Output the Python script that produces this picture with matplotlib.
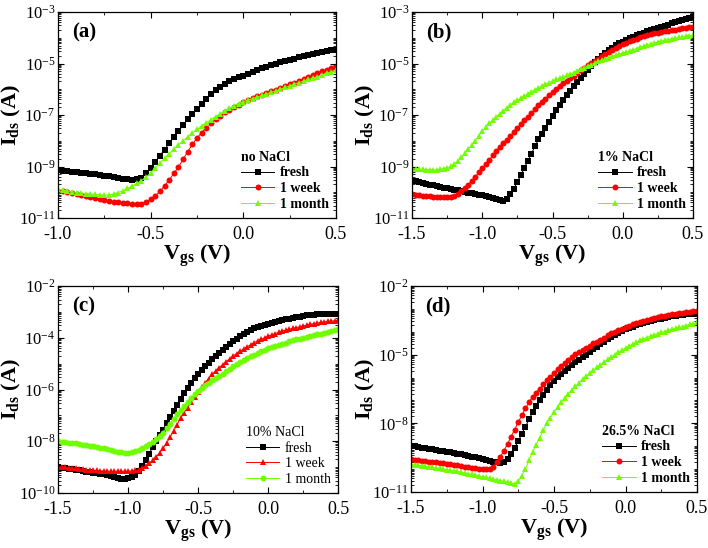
import numpy as np
import matplotlib
matplotlib.use("Agg")
import matplotlib.pyplot as plt
from matplotlib.ticker import FixedLocator, NullFormatter, FixedFormatter

plt.rcParams["font.family"] = ["Liberation Serif", "DejaVu Serif"]
plt.rcParams["mathtext.fontset"] = "custom"
plt.rcParams["mathtext.rm"] = "Liberation Serif"
plt.rcParams["mathtext.bf"] = "Liberation Serif:bold"
plt.rcParams["mathtext.it"] = "Liberation Serif:italic"

# gate voltage sweeps (V)
vgs_a = np.round(np.arange(-1.0, 0.5001, 0.025), 3)
vgs_bcd = np.round(np.arange(-1.5, 0.5001, 0.025), 3)

# log10(Ids / A)
# (a) no NaCl
a_fresh = [-9.15, -9.17, -9.19, -9.2, -9.23, -9.25, -9.27, -9.29, -9.31, -9.33, -9.36, -9.38, -9.41,
           -9.44, -9.47, -9.49, -9.51, -9.5, -9.43, -9.27, -9.05, -8.82, -8.58, -8.34, -8.1, -7.87,
           -7.63, -7.4, -7.17, -6.96, -6.77, -6.56, -6.37, -6.2, -6.04, -5.9, -5.78, -5.68, -5.6,
           -5.53, -5.47, -5.39, -5.32, -5.25, -5.18, -5.12, -5.07, -5.01, -4.96, -4.91, -4.86, -4.81,
           -4.76, -4.72, -4.67, -4.63, -4.59, -4.56, -4.52, -4.49, -4.46]
a_week = [-9.94, -9.97, -10.0, -10.04, -10.08, -10.12, -10.16, -10.2, -10.24, -10.27, -10.3, -10.34,
          -10.37, -10.39, -10.41, -10.43, -10.45, -10.45, -10.44, -10.38, -10.28, -10.14, -9.96, -9.75,
          -9.52, -9.27, -9.02, -8.72, -8.42, -8.14, -7.89, -7.68, -7.5, -7.32, -7.17, -7.03, -6.9,
          -6.8, -6.7, -6.6, -6.5, -6.43, -6.35, -6.28, -6.21, -6.14, -6.08, -6.01, -5.95, -5.88,
          -5.81, -5.74, -5.67, -5.6, -5.52, -5.45, -5.38, -5.31, -5.25, -5.18, -5.12]
a_month = [-9.88, -9.91, -9.95, -9.98, -10.01, -10.03, -10.05, -10.07, -10.08, -10.1, -10.11, -10.1,
           -10.07, -10.01, -9.94, -9.85, -9.76, -9.66, -9.55, -9.41, -9.26, -9.06, -8.87, -8.68, -8.5,
           -8.33, -8.16, -8.0, -7.84, -7.7, -7.56, -7.43, -7.3, -7.18, -7.06, -6.95, -6.84, -6.74,
           -6.64, -6.56, -6.48, -6.42, -6.36, -6.3, -6.24, -6.18, -6.12, -6.06, -6.0, -5.93, -5.87,
           -5.8, -5.74, -5.68, -5.62, -5.57, -5.51, -5.45, -5.38, -5.32, -5.25]

# (b) 1% NaCl
b_fresh = [-9.55, -9.58, -9.61, -9.65, -9.68, -9.71, -9.73, -9.76, -9.79, -9.82, -9.85, -9.87, -9.9,
           -9.93, -9.96, -9.98, -10.01, -10.04, -10.07, -10.09, -10.12, -10.16, -10.2, -10.24, -10.28,
           -10.31, -10.33, -10.25, -10.08, -9.86, -9.6, -9.33, -9.05, -8.78, -8.5, -8.22, -7.95, -7.73,
           -7.52, -7.28, -7.05, -6.82, -6.6, -6.42, -6.24, -6.06, -5.88, -5.71, -5.55, -5.39, -5.24,
           -5.1, -4.96, -4.84, -4.72, -4.6, -4.49, -4.39, -4.3, -4.22, -4.15, -4.08, -4.02, -3.96,
           -3.9, -3.85, -3.8, -3.75, -3.7, -3.66, -3.61, -3.57, -3.53, -3.49, -3.44, -3.4, -3.36,
           -3.32, -3.28, -3.24, -3.2]
b_week = [-10.08, -10.1, -10.11, -10.13, -10.14, -10.16, -10.18, -10.19, -10.2, -10.2, -10.19, -10.17,
          -10.13, -10.06, -9.96, -9.84, -9.7, -9.56, -9.4, -9.23, -9.07, -8.91, -8.75, -8.56, -8.38,
          -8.23, -8.09, -7.96, -7.82, -7.66, -7.5, -7.35, -7.2, -7.06, -6.93, -6.78, -6.63, -6.49,
          -6.36, -6.23, -6.1, -5.98, -5.87, -5.77, -5.67, -5.58, -5.48, -5.37, -5.26, -5.16, -5.07,
          -4.98, -4.9, -4.81, -4.72, -4.63, -4.55, -4.47, -4.4, -4.33, -4.26, -4.2, -4.14, -4.08,
          -4.03, -3.98, -3.94, -3.9, -3.86, -3.83, -3.8, -3.77, -3.75, -3.72, -3.7, -3.68, -3.66,
          -3.64, -3.61, -3.59, -3.57]
b_month = [-9.08, -9.09, -9.1, -9.11, -9.12, -9.13, -9.14, -9.13, -9.11, -9.08, -9.05, -8.99, -8.9,
           -8.79, -8.65, -8.49, -8.33, -8.17, -8.0, -7.81, -7.63, -7.48, -7.33, -7.2, -7.08, -6.95,
           -6.83, -6.71, -6.6, -6.51, -6.43, -6.34, -6.25, -6.17, -6.09, -6.01, -5.94, -5.87, -5.8,
           -5.74, -5.68, -5.62, -5.57, -5.51, -5.46, -5.4, -5.35, -5.28, -5.22, -5.16, -5.1, -5.04,
           -4.98, -4.92, -4.87, -4.82, -4.77, -4.72, -4.68, -4.63, -4.59, -4.55, -4.5, -4.46, -4.42,
           -4.37, -4.32, -4.28, -4.23, -4.2, -4.16, -4.13, -4.1, -4.07, -4.04, -4.02, -3.99, -3.97,
           -3.94, -3.92, -3.9]

# (c) 10% NaCl
c_fresh = [-9.0, -9.03, -9.05, -9.06, -9.08, -9.1, -9.13, -9.15, -9.17, -9.19, -9.21, -9.23, -9.26,
           -9.28, -9.31, -9.34, -9.37, -9.41, -9.45, -9.46, -9.43, -9.38, -9.3, -9.15, -8.95, -8.72,
           -8.48, -8.24, -8.0, -7.77, -7.55, -7.3, -7.05, -6.82, -6.6, -6.37, -6.15, -5.95, -5.75,
           -5.57, -5.39, -5.24, -5.1, -4.97, -4.84, -4.71, -4.58, -4.47, -4.36, -4.24, -4.13, -4.03,
           -3.94, -3.86, -3.78, -3.71, -3.64, -3.59, -3.54, -3.5, -3.46, -3.42, -3.38, -3.35, -3.32,
           -3.29, -3.26, -3.23, -3.2, -3.18, -3.16, -3.14, -3.12, -3.11, -3.1, -3.09, -3.08, -3.07,
           -3.07, -3.07, -3.07]
c_week = [-9.0, -9.0, -9.01, -9.02, -9.03, -9.05, -9.06, -9.08, -9.1, -9.11, -9.12, -9.13, -9.14,
          -9.15, -9.15, -9.16, -9.16, -9.16, -9.16, -9.16, -9.16, -9.15, -9.13, -9.1, -9.04, -8.96,
          -8.85, -8.74, -8.6, -8.45, -8.28, -8.07, -7.85, -7.6, -7.36, -7.12, -6.9, -6.7, -6.5,
          -6.3, -6.1, -5.92, -5.74, -5.58, -5.42, -5.29, -5.16, -5.04, -4.93, -4.82, -4.71, -4.61,
          -4.52, -4.43, -4.35, -4.27, -4.19, -4.12, -4.06, -4.0, -3.94, -3.89, -3.84, -3.79, -3.74,
          -3.71, -3.67, -3.64, -3.61, -3.58, -3.54, -3.51, -3.48, -3.46, -3.43, -3.41, -3.39, -3.37,
          -3.36, -3.34, -3.33]
c_month = [-8.0, -8.02, -8.03, -8.05, -8.06, -8.08, -8.1, -8.13, -8.15, -8.18, -8.2, -8.23, -8.26,
           -8.28, -8.31, -8.34, -8.36, -8.4, -8.43, -8.44, -8.44, -8.42, -8.38, -8.33, -8.27, -8.2,
           -8.12, -8.03, -7.93, -7.8, -7.67, -7.5, -7.32, -7.14, -6.96, -6.79, -6.63, -6.47, -6.32,
           -6.18, -6.05, -5.93, -5.82, -5.73, -5.65, -5.56, -5.48, -5.39, -5.29, -5.2, -5.1, -5.02,
           -4.93, -4.86, -4.79, -4.72, -4.65, -4.58, -4.52, -4.46, -4.41, -4.36, -4.32, -4.27, -4.23,
           -4.19, -4.14, -4.1, -4.06, -4.03, -4.0, -3.97, -3.94, -3.91, -3.87, -3.84, -3.81, -3.78,
           -3.74, -3.71, -3.68]

# (d) 26.5% NaCl
d_fresh = [-8.99, -9.01, -9.03, -9.06, -9.08, -9.11, -9.14, -9.17, -9.2, -9.22, -9.25, -9.27, -9.3,
           -9.33, -9.36, -9.39, -9.42, -9.45, -9.49, -9.52, -9.55, -9.59, -9.63, -9.67, -9.71, -9.72,
           -9.67, -9.56, -9.35, -9.06, -8.77, -8.46, -8.15, -7.83, -7.52, -7.24, -6.98, -6.75, -6.53,
           -6.33, -6.15, -5.99, -5.84, -5.71, -5.58, -5.45, -5.33, -5.22, -5.12, -5.0, -4.89, -4.77,
           -4.65, -4.54, -4.44, -4.33, -4.22, -4.13, -4.04, -3.96, -3.88, -3.83, -3.77, -3.72, -3.67,
           -3.62, -3.58, -3.53, -3.49, -3.45, -3.42, -3.38, -3.35, -3.33, -3.3, -3.28, -3.26, -3.24,
           -3.23, -3.21, -3.2]
d_week = [-9.58, -9.6, -9.61, -9.63, -9.65, -9.67, -9.68, -9.7, -9.72, -9.74, -9.76, -9.79, -9.81,
          -9.84, -9.86, -9.89, -9.92, -9.94, -9.96, -9.98, -10.0, -10.01, -10.01, -9.9, -9.7, -9.46,
          -9.2, -8.9, -8.58, -8.27, -7.95, -7.65, -7.35, -7.08, -6.84, -6.66, -6.48, -6.3, -6.12,
          -5.96, -5.8, -5.64, -5.49, -5.36, -5.24, -5.11, -4.99, -4.88, -4.78, -4.69, -4.6, -4.51,
          -4.43, -4.34, -4.25, -4.15, -4.06, -3.99, -3.92, -3.86, -3.8, -3.74, -3.68, -3.62, -3.57,
          -3.53, -3.49, -3.45, -3.41, -3.37, -3.33, -3.3, -3.26, -3.24, -3.21, -3.19, -3.16, -3.14,
          -3.12, -3.11, -3.09]
d_month = [-9.78, -9.8, -9.83, -9.85, -9.87, -9.9, -9.92, -9.95, -9.97, -10.0, -10.02, -10.05, -10.07,
           -10.1, -10.13, -10.17, -10.2, -10.23, -10.26, -10.3, -10.33, -10.36, -10.4, -10.43, -10.46,
           -10.5, -10.53, -10.58, -10.62, -10.65, -10.52, -10.28, -10.0, -9.62, -9.25, -8.93, -8.62,
           -8.3, -8.0, -7.75, -7.52, -7.3, -7.08, -6.88, -6.7, -6.54, -6.38, -6.23, -6.08, -5.94,
           -5.8, -5.68, -5.56, -5.44, -5.32, -5.21, -5.1, -5.0, -4.9, -4.8, -4.7, -4.62, -4.54,
           -4.46, -4.38, -4.31, -4.25, -4.19, -4.13, -4.08, -4.03, -3.99, -3.94, -3.9, -3.85, -3.81,
           -3.77, -3.73, -3.68, -3.64, -3.59]

series_labels = ["fresh", "1 week", "1 month"]
legend_titles = ["no NaCl", "1% NaCl", "10% NaCl", "26.5% NaCl"]
panel_tags = ["(a)", "(b)", "(c)", "(d)"]

BLACK, RED, GREEN = "#000000", "#ff0000", "#70ff00"
W, H = 708, 548

# axes boxes in pixels: left, top, right, bottom
panels = [
    dict(x=vgs_a, ys=[a_fresh, a_week, a_month], markers=["s", "o", "^"],
         xlim=(-1.0, 0.5), xticks=[-1.0, -0.5, 0.0, 0.5], ylim=(-11, -3),
         ylabels=[-11, -9, -7, -5, -3], bold_legend=True, box=(58, 12, 336, 218), col0=0),
    dict(x=vgs_bcd, ys=[b_fresh, b_week, b_month], markers=["s", "o", "^"],
         xlim=(-1.5, 0.5), xticks=[-1.5, -1.0, -0.5, 0.0, 0.5], ylim=(-11, -3),
         ylabels=[-11, -9, -7, -5, -3], bold_legend=True, box=(412, 12, 693, 218), col0=354),
    dict(x=vgs_bcd, ys=[c_fresh, c_week, c_month], markers=["s", "^", "o"],
         xlim=(-1.5, 0.5), xticks=[-1.5, -1.0, -0.5, 0.0, 0.5], ylim=(-10, -2),
         ylabels=[-10, -8, -6, -4, -2], bold_legend=False, box=(58, 286, 338, 493), col0=0),
    dict(x=vgs_bcd, ys=[d_fresh, d_week, d_month], markers=["s", "o", "^"],
         xlim=(-1.5, 0.5), xticks=[-1.5, -1.0, -0.5, 0.0, 0.5], ylim=(-11, -2),
         ylabels=[-11, -8, -5, -2], bold_legend=True, box=(411, 286, 697, 492), col0=354),
]

fig = plt.figure(figsize=(W / 100, H / 100), dpi=100)

for i, p in enumerate(panels):
    l, t, r, b = p["box"]
    ax = fig.add_axes([l / W, 1 - b / H, (r - l) / W, (b - t) / H])
    for ys, mk, col, lab in zip(p["ys"], p["markers"], [BLACK, RED, GREEN], series_labels):
        ax.semilogy(p["x"], 10.0 ** np.array(ys), color=col, linewidth=0.7,
                    marker=mk, markersize=4.3, markeredgewidth=0, label=lab)

    lo, hi = p["ylim"]
    ax.set_ylim(10.0 ** lo, 10.0 ** hi)
    ax.set_xlim(*p["xlim"])

    # y ticks: labelled decades as majors, the rest as minors
    majors = [10.0 ** e for e in p["ylabels"]]
    minors = []
    for e in range(lo, hi + 1):
        if e not in p["ylabels"]:
            minors.append(10.0 ** e)
        if e < hi:
            minors += [k * 10.0 ** e for k in range(2, 10)]
    ax.yaxis.set_major_locator(FixedLocator(majors))
    ax.yaxis.set_major_formatter(FixedFormatter(
        [r"$\mathregular{10^{%d}}$" % e for e in p["ylabels"]]))
    ax.yaxis.set_minor_locator(FixedLocator(minors))
    ax.yaxis.set_minor_formatter(NullFormatter())

    ax.set_xticks(p["xticks"])
    ax.set_xticklabels([f"{t:.1f}" for t in p["xticks"]])
    ax.set_xticks(np.arange(p["xlim"][0] + 0.25, p["xlim"][1], 0.5), minor=True)

    ax.tick_params(which="both", direction="in", top=True, right=True)
    ax.tick_params(axis="x", labelsize=13, pad=5.5)
    ax.tick_params(axis="y", labelsize=12, pad=2)
    ax.tick_params(which="major", length=4, width=0.8)
    ax.tick_params(which="minor", length=2, width=0.6)
    for s in ax.spines.values():
        s.set_linewidth(0.9)

    ax.set_xlabel(r"$\mathbf{V_{gs}}$ (V)", fontsize=16, fontweight="bold", labelpad=0)
    ax.set_ylabel(r"$\mathbf{I_{ds}}$ (A)", fontsize=16, fontweight="bold")
    ax.yaxis.set_label_coords((p["col0"] + 23 - l) / (r - l), 0.5)

    ax.text(0.05, 0.9, panel_tags[i], transform=ax.transAxes, fontsize=15,
            fontweight="bold", ha="left", va="center")

    weight = "bold" if p["bold_legend"] else "normal"
    ax.legend(title=legend_titles[i], loc="lower right", frameon=False,
              prop={"size": 10, "weight": weight},
              title_fontproperties={"size": 10, "weight": weight},
              alignment="left", handlelength=2.4, handletextpad=0.4,
              labelspacing=0.2, borderaxespad=0.3, borderpad=0.2)

fig.savefig("out.png", dpi=100)
